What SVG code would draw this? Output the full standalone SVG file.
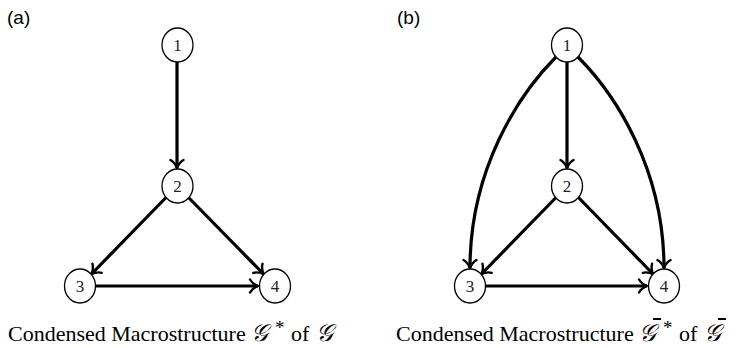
<svg xmlns="http://www.w3.org/2000/svg" width="740" height="348" viewBox="0 0 740 348">
<defs>
<style>
.node ellipse{fill:#fff;stroke:#000;stroke-width:1.3}
.node text{font-family:"Liberation Serif","DejaVu Serif",serif;font-size:17px;text-anchor:middle;fill:#222}
.edge{fill:none;stroke:#000;stroke-width:3.2;marker-end:url(#to)}
.lbl{font-family:"Liberation Sans",Arial,sans-serif;font-size:19px;fill:#000}
.cap{font-family:"Liberation Serif","Times New Roman",serif;font-size:22px;fill:#000}
.scr{font-family:"DejaVu Serif","DejaVu Sans","Noto Sans",serif;font-size:24px;font-style:italic;fill:#000}
.star{font-family:"Liberation Serif",serif;font-size:19px;fill:#000}
.bar{stroke:#000;stroke-width:2}
</style>
<marker id="to" markerUnits="userSpaceOnUse" viewBox="-10 -8 12 16" markerWidth="12" markerHeight="16" refX="0" refY="0" orient="auto">
<path d="M-8,-6.5 C-6,-3 -2,-0.8 0,0 C-2,0.8 -6,3 -8,6.5" fill="none" stroke="#000" stroke-width="2.4" stroke-linecap="round"/>
</marker>
</defs>
<text class="lbl" x="7" y="24">(a)</text>
<text class="lbl" x="397" y="24">(b)</text>
<g id="edges">
<path class="edge" d="M177,62 L177,168"/>
<path class="edge" d="M166,197.5 L91.5,274"/>
<path class="edge" d="M188.5,197.5 L263.5,274"/>
<path class="edge" d="M96,286 L258,286"/>
<path class="edge" d="M567,62 L567,168"/>
<path class="edge" d="M556,197.5 L481.5,274"/>
<path class="edge" d="M578.5,197.5 L653,274"/>
<path class="edge" d="M486,286 L647,286"/>
<path class="edge" d="M556,57 C518,95 470,170 470,268"/>
<path class="edge" d="M578,57 C616,95 664,170 664,268"/>
</g>
<g id="a1" class="node"><ellipse cx="177.5" cy="45" rx="15.5" ry="17"/><text x="177.5" y="51">1</text></g>
<g id="a2" class="node"><ellipse cx="177.5" cy="186" rx="15.5" ry="17"/><text x="177.5" y="192">2</text></g>
<g id="a3" class="node"><ellipse cx="80" cy="286" rx="15.5" ry="17"/><text x="80" y="292">3</text></g>
<g id="a4" class="node"><ellipse cx="275" cy="286" rx="15.5" ry="17"/><text x="275" y="292">4</text></g>
<g id="b1" class="node"><ellipse cx="567" cy="45" rx="15.5" ry="17"/><text x="567" y="51">1</text></g>
<g id="b2" class="node"><ellipse cx="567" cy="186" rx="15.5" ry="17"/><text x="567" y="192">2</text></g>
<g id="b3" class="node"><ellipse cx="470" cy="286" rx="15.5" ry="17"/><text x="470" y="292">3</text></g>
<g id="b4" class="node"><ellipse cx="664" cy="286" rx="15.5" ry="17"/><text x="664" y="292">4</text></g>
<g id="caption-a">
<text class="cap" x="8" y="341">Condensed Macrostructure</text>
<text class="scr" x="251" y="341">𝒢</text>
<text class="star" x="275" y="334">*</text>
<text class="cap" x="291" y="341">of</text>
<text class="scr" x="316" y="341">𝒢</text>
</g>
<g id="caption-b">
<text class="cap" x="396" y="341">Condensed Macrostructure</text>
<text class="scr" x="639" y="341">𝒢</text>
<line class="bar" x1="653" y1="319" x2="661" y2="319"/>
<text class="star" x="663" y="334">*</text>
<text class="cap" x="679" y="341">of</text>
<text class="scr" x="704" y="341">𝒢</text>
<line class="bar" x1="718" y1="319" x2="726" y2="319"/>
</g>
</svg>
